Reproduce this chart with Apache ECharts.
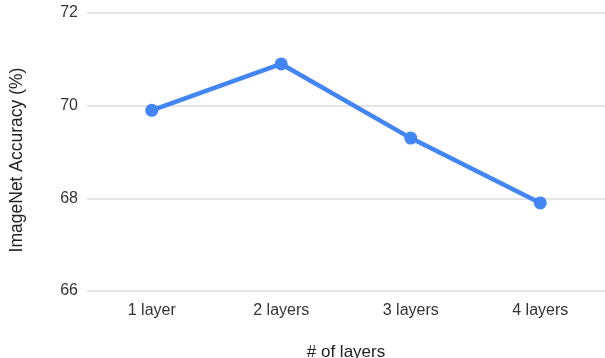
<!DOCTYPE html>
<html>
<head>
<meta charset="utf-8">
<script src="https://cdn.jsdelivr.net/npm/echarts@6/dist/echarts.min.js"></script>
<style>
  html, body { margin: 0; padding: 0; background: #fff; }
  #chart { width: 605px; height: 358px; }
</style>
</head>
<body>
<div id="chart"></div>
<script>
// Accuracy by number of layers
const categories = ['1 layer', '2 layers', '3 layers', '4 layers'];
const accuracy = [69.9, 70.9, 69.3, 67.9];
const yTicks = { min: 66, max: 72, interval: 2 };

const font = '"Liberation Sans", Arial, Helvetica, sans-serif';

const chart = echarts.init(document.getElementById('chart'));
chart.setOption({
  animation: false,
  grid: { left: 87, right: 0, top: 13, bottom: 67, outerBoundsMode: 'none', containLabel: false },
  xAxis: {
    type: 'category',
    data: categories,
    boundaryGap: true,
    name: '# of layers',
    nameLocation: 'middle',
    nameGap: 53,
    nameTextStyle: { fontFamily: font, fontSize: 17, color: '#222' },
    axisLine: { show: false },
    axisTick: { show: false },
    axisLabel: { fontFamily: font, fontSize: 16, color: '#333', margin: 12 }
  },
  yAxis: {
    type: 'value',
    min: yTicks.min,
    max: yTicks.max,
    interval: yTicks.interval,
    name: 'ImageNet Accuracy (%)',
    nameLocation: 'middle',
    nameGap: 61,
    nameTextStyle: { fontFamily: font, fontSize: 17.5, color: '#222', padding: [0, 16, 0, 0] },
    axisLine: { show: false },
    axisTick: { show: false },
    axisLabel: { fontFamily: font, fontSize: 16, color: '#333', margin: 9 },
    splitLine: { lineStyle: { color: '#dcdcdc', width: 1.5 } }
  },
  series: [{
    type: 'line',
    data: accuracy,
    symbol: 'circle',
    symbolSize: 13,
    lineStyle: { color: '#4285f4', width: 4.5 },
    itemStyle: { color: '#4285f4' }
  }]
});
</script>
</body>
</html>
